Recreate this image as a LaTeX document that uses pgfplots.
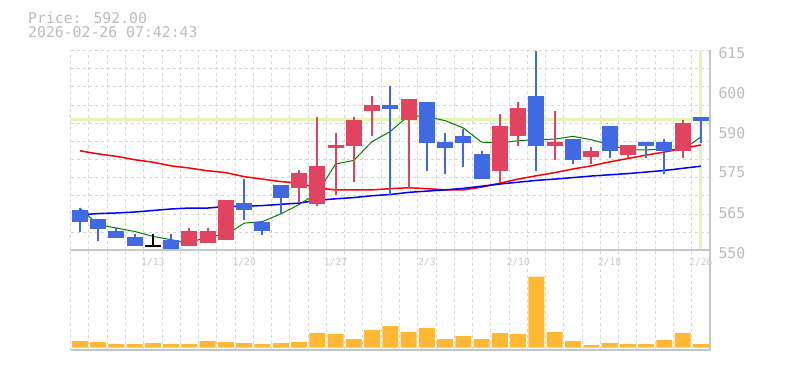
\documentclass[border=0pt]{standalone}
\usepackage{fontspec}
\usepackage{pgfplots}
\usepackage{pgfplotstable}
\pgfplotsset{compat=1.18}
\newfontfamily\dmono{DejaVu Sans Mono}
\definecolor{upred}{RGB}{224,68,96}
\definecolor{dnblue}{RGB}{65,105,225}
\definecolor{volc}{RGB}{255,184,51}
\definecolor{hlc}{RGB}{229,244,180}
\definecolor{gridc}{RGB}{214,214,214}
\definecolor{framec}{RGB}{198,198,198}
\definecolor{txtc}{RGB}{188,188,188}
\definecolor{datec}{RGB}{200,200,200}
\definecolor{magreen}{RGB}{0,128,0}
\pgfplotsset{candle/.style={only marks, mark=*, mark size=0.1pt, mark options={draw opacity=0, fill opacity=0, opacity=0}}}

\pgfplotstableread{
i o h l c
6 551.3 557.3 551.3 556.4
7 552.3 557.3 552.3 556.4
8 553.3 566.5 553.3 566.5
12 570.2 576.2 565.4 575.3
13 565.2 593.4 564.3 577.5
14 583.2 588.2 568.1 584.4
15 584.0 593.4 572.1 592.5
16 595.2 600.3 587.1 597.4
18 592.3 599.3 570.3 599.3
23 576.0 594.4 572.1 590.5
24 587.1 598.3 584.0 596.3
26 584.0 595.4 579.3 585.3
28 580.4 583.5 578.2 582.4
30 581.2 584.3 580.1 584.3
33 582.2 592.5 580.1 591.5
}\upcandles

\pgfplotstableread{
i o h l c
0 563.2 563.8 556.0 559.1
1 560.3 560.3 553.2 557.1
2 556.4 557.3 554.2 554.2
3 554.5 555.3 551.3 551.3
5 553.5 555.3 550.0 550.0
9 565.5 573.3 560.0 563.0
10 559.3 559.3 555.1 556.2
11 571.4 571.4 561.9 567.2
17 597.4 603.5 568.1 596.1
19 598.3 598.3 576.0 585.1
20 585.3 588.2 574.9 583.2
21 587.3 589.5 577.3 585.1
22 581.4 582.3 573.2 573.2
25 600.3 615.0 576.0 584.0
27 586.3 586.3 578.2 579.3
29 590.5 590.5 580.1 582.2
31 585.3 585.3 580.1 584.0
32 585.3 586.3 574.9 582.2
34 593.5 593.5 585.1 592.0
}\dncandles

\pgfplotstableread{
i ma5 ma25 ma75
0 563.8 582.4 561.6
1 558.4 581.4 562.0
2 557.3 580.6 562.2
3 556.2 579.5 562.5
4 554.6 578.7 563.0
5 553.5 577.5 563.5
6 552.4 576.8 563.8
7 554.6 575.9 563.8
8 555.1 575.3 564.3
9 558.9 574.0 564.4
10 559.4 573.2 564.6
11 561.9 572.4 565.0
12 564.9 571.9 565.4
13 568.7 570.3 566.3
14 578.1 569.7 566.8
15 579.3 569.7 567.2
16 585.4 569.7 567.8
17 588.7 570.1 568.2
18 593.8 570.4 568.9
19 593.5 570.1 569.3
20 592.2 569.7 569.7
21 589.8 569.7 570.2
22 585.2 570.6 570.9
23 584.9 571.9 571.6
24 585.7 573.2 572.2
25 586.0 574.3 572.8
26 586.2 575.3 573.2
27 587.1 576.5 573.7
28 586.0 577.5 574.2
29 584.4 578.8 574.6
30 582.7 579.9 575.0
31 582.7 581.0 575.5
32 583.0 582.0 576.0
33 582.7 583.1 576.7
34 586.9 584.3 577.4
}\mas

\pgfplotstableread{
i v
0 6.7
1 5.7
2 3.7
3 3.7
4 4.7
5 3.7
6 3.7
7 6.7
8 5.7
9 4.7
10 3.7
11 4.7
12 5.7
13 14.7
14 13.7
15 8.7
16 17.7
17 21.7
18 15.7
19 19.7
20 8.7
21 11.7
22 8.7
23 14.7
24 13.7
25 71
26 15.7
27 6.7
28 2.7
29 4.7
30 3.7
31 3.7
32 7.7
33 14.7
34 3.7
}\vols

\begin{document}
\begin{tikzpicture}
\path (0bp,0bp) rectangle (785bp,370bp);
\node[anchor=base west, inner sep=0, text=txtc, font=\dmono\fontsize{14.8bp}{15bp}\selectfont] at (28bp,346.7bp) {Price: 592.00};
\node[anchor=base west, inner sep=0, text=txtc, font=\dmono\fontsize{14.8bp}{15bp}\selectfont] at (28bp,332.7bp) {2026-02-26 07:42:43};

\begin{axis}[name=price, at={(70.7bp,119.5bp)}, anchor=south west,
  width=639.3bp, height=200bp, scale only axis,
  xmin=-0.5, xmax=34.5, ymin=550, ymax=615,
  axis line style={draw=none}, major tick length=0pt,
  xtick={-0.5,0.5,...,33.5}, xticklabels={},
  ytick={555.909,561.818,567.727,573.636,579.545,585.455,591.364,597.273,603.182,609.091,615},
  yticklabels={},
  grid=major, grid style={gridc, dash pattern=on 3bp off 3bp, line width=1bp},
  yticklabel pos=right,
  extra x ticks={4,9,14,19,24,29,34},
  extra x tick labels={1/13,1/20,1/27,2/3,2/10,2/18,2/26},
  extra x tick style={grid=none, xticklabel style={anchor=base, yshift=-15.5bp, inner sep=0pt, text=datec, font=\dmono\fontsize{9.7bp}{10bp}\selectfont}},
  extra y ticks={550,563,576,589,602,615},
  extra y tick labels={550,565,575,590,600,615},
  extra y tick style={grid=none, yticklabel style={anchor=west, inner sep=0pt, xshift=8.3bp, yshift=-2.2bp, text=txtc, font=\dmono\fontsize{14.8bp}{15bp}\selectfont}},
]
\addplot[hlc, line width=3.5bp] coordinates {(-0.5,592.5) (34.5,592.5)};
\addplot[hlc, line width=3bp] coordinates {(34,550.6) (34,615)};
\addplot[red, line width=1.5bp] table[x=i, y=ma25] {\mas};
\addplot[blue, line width=1.5bp] table[x=i, y=ma75] {\mas};
\addplot[magreen, line width=1bp] table[x=i, y=ma5] {\mas};
% down candles
\addplot[candle, error bars/.cd, y dir=plus, y explicit, error mark=none,
  error bar style={dnblue, line width=2bp}]
  table[x=i, y=l, y error plus expr=\thisrow{h}-\thisrow{l}] {\dncandles};
\addplot[candle, error bars/.cd, y dir=plus, y explicit, error mark=none,
  error bar style={dnblue, line width=16bp}]
  table[x=i, y=c, y error plus expr=\thisrow{o}-\thisrow{c}] {\dncandles};
% up candles
\addplot[candle, error bars/.cd, y dir=plus, y explicit, error mark=none,
  error bar style={upred, line width=2bp}]
  table[x=i, y=l, y error plus expr=\thisrow{h}-\thisrow{l}] {\upcandles};
\addplot[candle, error bars/.cd, y dir=plus, y explicit, error mark=none,
  error bar style={upred, line width=16bp}]
  table[x=i, y=o, y error plus expr=\thisrow{c}-\thisrow{o}] {\upcandles};
% doji
\addplot[candle, error bars/.cd, y dir=plus, y explicit, error mark=none,
  error bar style={black, line width=2bp}]
  coordinates {(4,551.4) +- (0,3.9)};
\addplot[candle, error bars/.cd, x dir=both, x fixed=0.438, error mark=none,
  error bar style={black, line width=2bp}]
  coordinates {(4,551.4)};
\end{axis}

\begin{axis}[name=vol, at={(70.7bp,20bp)}, anchor=south west,
  width=639.3bp, height=100bp, scale only axis,
  xmin=-0.5, xmax=34.5, ymin=-2.3, ymax=97.7,
  axis line style={draw=none}, major tick length=0pt,
  xtick={-0.5,0.5,...,33.5}, xticklabels={}, ytick=\empty,
  xmajorgrids, grid style={gridc, dash pattern=on 3bp off 3bp, line width=1bp},
]
\addplot[ybar, bar width=0.876, bar shift=0pt, fill=volc, draw=none] table[x=i, y=v] {\vols};
\end{axis}

\draw[framec, line width=2bp] (70.7bp,119.5bp) -- (710bp,119.5bp);
\draw[framec, line width=2bp] (70.7bp,20bp) -- (711bp,20bp);
\draw[framec, line width=2bp] (710bp,319.5bp) -- (710bp,19bp);
\end{tikzpicture}
\end{document}
